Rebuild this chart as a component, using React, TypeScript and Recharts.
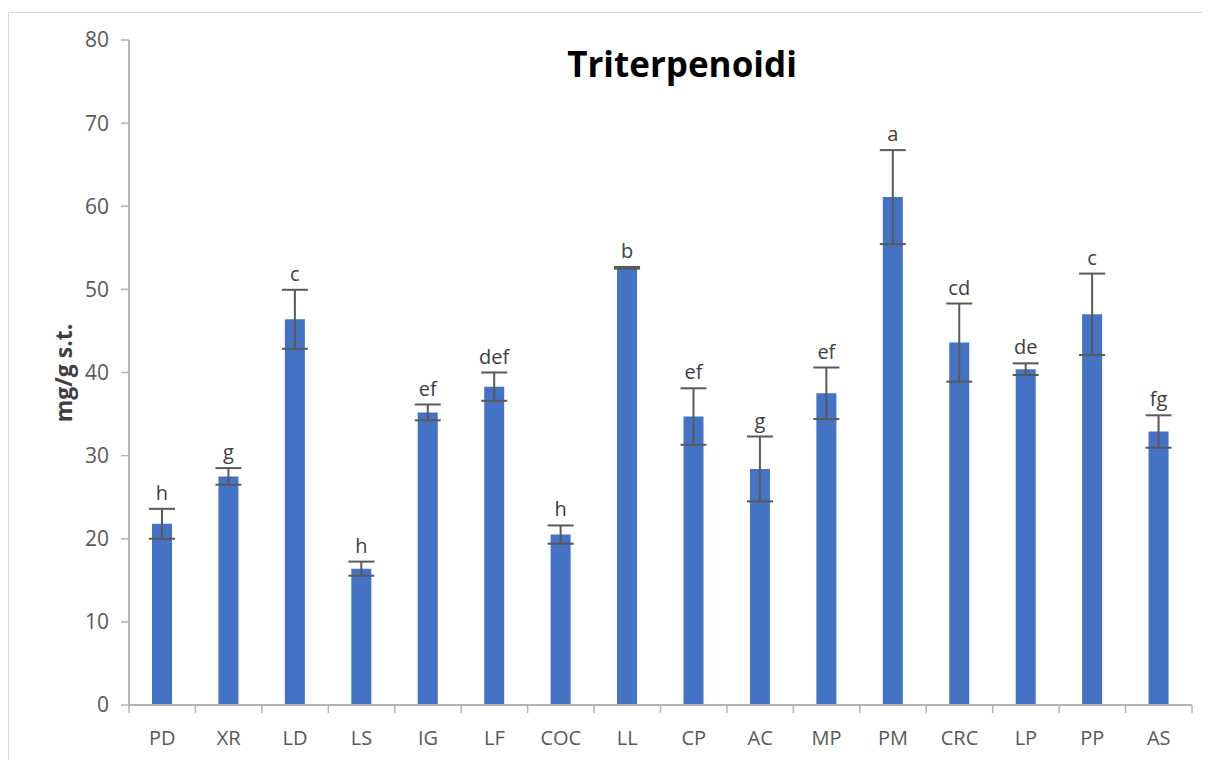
import React from 'react';
import { BarChart, Bar, XAxis, YAxis, ErrorBar, LabelList } from 'recharts';

const categories = ['PD', 'XR', 'LD', 'LS', 'IG', 'LF', 'COC', 'LL', 'CP', 'AC', 'MP', 'PM', 'CRC', 'LP', 'PP', 'AS'];
const values = [21.8, 27.5, 46.4, 16.4, 35.2, 38.3, 20.5, 52.6, 34.7, 28.4, 37.5, 61.1, 43.6, 40.4, 47.0, 32.9];
const errors = [1.8, 1.0, 3.55, 0.85, 0.95, 1.7, 1.1, 0.1, 3.4, 3.9, 3.1, 5.65, 4.7, 0.7, 4.9, 1.95];
const letters = ['h', 'g', 'c', 'h', 'ef', 'def', 'h', 'b', 'ef', 'g', 'ef', 'a', 'cd', 'de', 'c', 'fg'];
const yTicks = [0, 10, 20, 30, 40, 50, 60, 70, 80];

const data = categories.map((c, i) => ({ name: c, value: values[i], err: errors[i], letter: letters[i] }));

const FONT = '"Open Sans", "Liberation Sans", sans-serif';
const AXIS_COLOR = '#b4b4b4';
const TEXT_COLOR = '#595959';

const XTick = (props: any) => {
  const { x, y, payload, index, visibleTicksCount } = props;
  const w = typeof props.width === 'number' ? props.width : 1063;
  const n = visibleTicksCount || categories.length;
  const step = w / n;
  const axisY = y - 8;
  return (
    <g>
      <line x1={x - step / 2} x2={x - step / 2} y1={axisY} y2={axisY + 8} stroke={AXIS_COLOR} strokeWidth={1.5} />
      {index === n - 1 && (
        <line x1={x + step / 2} x2={x + step / 2} y1={axisY} y2={axisY + 8} stroke={AXIS_COLOR} strokeWidth={1.5} />
      )}
      <text x={x} y={axisY + 40} textAnchor="middle" fill={TEXT_COLOR} fontSize={20} fontFamily={FONT}>
        {payload.value}
      </text>
    </g>
  );
};

const LetterLabel = (props: any) => {
  const { x, y, width, height, value, index } = props;
  const ppu = value ? height / value : 0;
  const top = y - errors[index] * ppu;
  return (
    <text x={x + width / 2} y={top - 9} textAnchor="middle" fill="#404040" fontSize={20} fontFamily={FONT}>
      {letters[index]}
    </text>
  );
};

export default function App() {
  return (
    <div
      style={{
        position: 'relative',
        width: 1196,
        height: 760,
        marginTop: 4,
        border: '1px solid #d9d9d9',
        boxSizing: 'border-box',
        background: '#fff',
      }}
    >
      <div
        style={{
          position: 'absolute',
          left: 473,
          width: 400,
          top: 33,
          textAlign: 'center',
          fontFamily: FONT,
          fontWeight: 700,
          fontSize: 35,
          lineHeight: '35px',
          color: '#000',
        }}
      >
        Triterpenoidi
      </div>
      <div
        style={{
          position: 'absolute',
          left: 54 - 70,
          top: 360 - 15,
          width: 140,
          height: 30,
          lineHeight: '30px',
          textAlign: 'center',
          transform: 'rotate(-90deg)',
          fontFamily: FONT,
          fontWeight: 700,
          fontSize: 23,
          color: '#404040',
        }}
      >
        mg/g s.t.
      </div>
      <BarChart
        width={1194}
        height={750}
        data={data}
        margin={{ top: 27, right: 11, left: 0, bottom: 0 }}
        barSize={20}
      >
        <XAxis
          dataKey="name"
          height={58}
          interval={0}
          tickSize={8}
          tickMargin={0}
          tickLine={false}
          axisLine={{ stroke: AXIS_COLOR, strokeWidth: 2 }}
          tick={<XTick />}
        />
        <YAxis
          width={120}
          domain={[0, 80]}
          ticks={yTicks}
          interval={0}
          tickSize={8}
          tickMargin={12}
          axisLine={{ stroke: AXIS_COLOR, strokeWidth: 2 }}
          tickLine={{ stroke: AXIS_COLOR, strokeWidth: 1.5 }}
          tick={{ fill: TEXT_COLOR, fontSize: 21, fontFamily: FONT }}
        />
        <Bar dataKey="value" fill="#4472C4" isAnimationActive={false}>
          <ErrorBar dataKey="err" width={13} stroke="#595959" strokeWidth={2} direction="y" />
          <LabelList dataKey="value" content={<LetterLabel />} />
        </Bar>
      </BarChart>
    </div>
  );
}
